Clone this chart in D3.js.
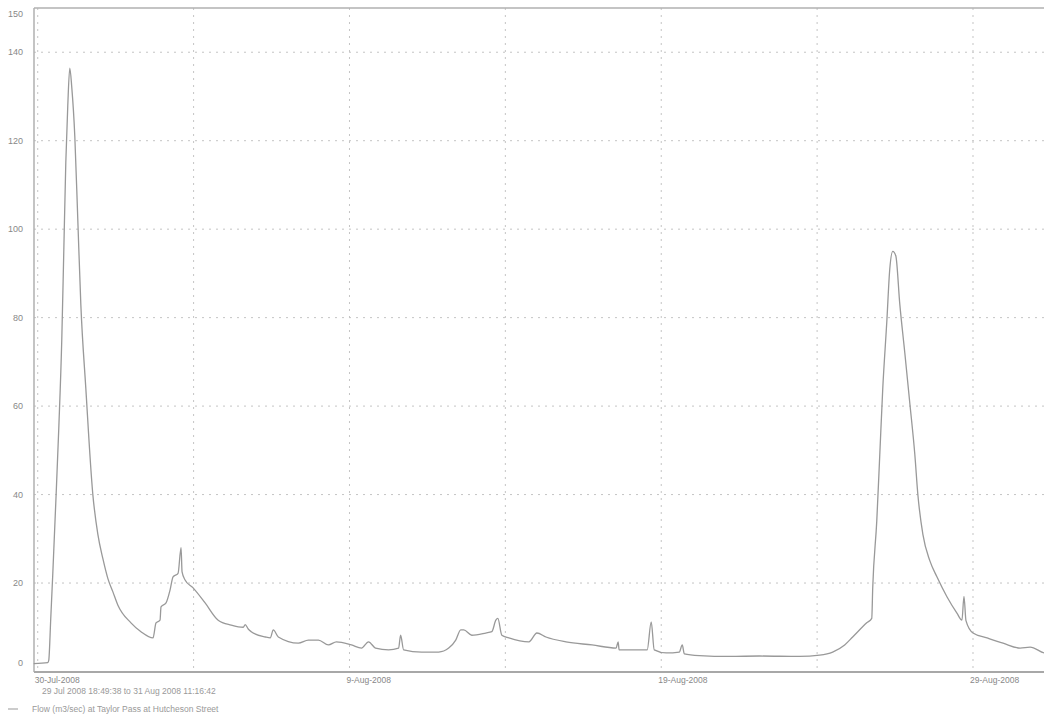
<!DOCTYPE html>
<html>
<head>
<meta charset="utf-8">
<script src="https://cdn.jsdelivr.net/npm/d3@7"></script>
<style>
  body { margin: 0; background: #fff; }
  text { font-family: "Liberation Sans", Arial, sans-serif; }
</style>
</head>
<body>
<div id="chart"></div>
<script>
// data (flow, m3/sec)
var times = [
  "2008-07-29 20:55", "2008-07-30 07:43", "2008-07-30 08:29", "2008-07-30 10:02",
  "2008-07-30 11:35", "2008-07-30 13:53", "2008-07-30 16:13", "2008-07-30 18:31",
  "2008-07-30 20:04", "2008-07-30 21:37", "2008-07-30 23:09", "2008-07-31 00:41",
  "2008-07-31 02:14", "2008-07-31 04:33", "2008-07-31 06:52", "2008-07-31 09:11",
  "2008-07-31 13:02", "2008-07-31 18:26", "2008-07-31 22:18", "2008-08-01 02:10",
  "2008-08-01 06:01", "2008-08-01 09:53", "2008-08-01 13:44", "2008-08-01 23:46",
  "2008-08-02 07:29", "2008-08-02 16:45", "2008-08-02 19:04", "2008-08-02 22:09",
  "2008-08-02 22:55", "2008-08-03 02:47", "2008-08-03 05:52", "2008-08-03 08:11",
  "2008-08-03 12:02", "2008-08-03 14:21", "2008-08-03 15:07", "2008-08-03 17:26",
  "2008-08-03 23:37", "2008-08-04 08:52", "2008-08-04 18:55", "2008-08-05 04:56",
  "2008-08-05 14:12", "2008-08-05 15:44", "2008-08-05 18:04", "2008-08-05 20:22",
  "2008-08-06 07:11", "2008-08-06 11:02", "2008-08-06 13:21", "2008-08-06 17:13",
  "2008-08-07 08:38", "2008-08-07 16:22", "2008-08-08 00:05", "2008-08-08 07:47",
  "2008-08-08 13:58", "2008-08-09 01:32", "2008-08-09 09:16", "2008-08-09 14:40",
  "2008-08-09 20:04", "2008-08-10 06:06", "2008-08-10 13:49", "2008-08-10 15:22",
  "2008-08-10 17:40", "2008-08-11 07:34", "2008-08-11 20:41", "2008-08-12 04:24",
  "2008-08-12 09:48", "2008-08-12 13:40", "2008-08-12 15:58", "2008-08-12 22:09",
  "2008-08-13 08:57", "2008-08-13 13:35", "2008-08-13 16:40", "2008-08-13 18:13",
  "2008-08-13 21:18", "2008-08-14 02:42", "2008-08-14 18:08", "2008-08-15 00:18",
  "2008-08-15 07:15", "2008-08-15 22:41", "2008-08-16 18:45", "2008-08-17 13:16",
  "2008-08-17 14:49", "2008-08-17 15:35", "2008-08-17 23:18", "2008-08-18 13:11",
  "2008-08-18 16:17", "2008-08-18 18:36", "2008-08-19 03:52", "2008-08-19 13:53",
  "2008-08-19 16:12", "2008-08-19 17:45", "2008-08-20 05:19", "2008-08-21 04:28",
  "2008-08-22 03:37", "2008-08-23 10:29", "2008-08-24 01:56", "2008-08-24 11:58",
  "2008-08-24 21:13", "2008-08-25 03:23", "2008-08-25 14:12", "2008-08-25 18:03",
  "2008-08-25 18:49", "2008-08-25 21:55", "2008-08-26 00:14", "2008-08-26 02:32",
  "2008-08-26 05:38", "2008-08-26 07:56", "2008-08-26 10:16", "2008-08-26 12:34",
  "2008-08-26 15:40", "2008-08-26 19:31", "2008-08-26 23:23", "2008-08-27 03:14",
  "2008-08-27 05:33", "2008-08-27 09:25", "2008-08-27 14:49", "2008-08-27 20:13",
  "2008-08-28 03:56", "2008-08-28 11:38", "2008-08-28 15:30", "2008-08-28 17:03",
  "2008-08-28 18:35", "2008-08-29 00:00", "2008-08-29 10:48", "2008-08-29 23:09",
  "2008-08-30 12:16", "2008-08-30 19:59", "2008-08-31 06:47", "2008-08-31 11:16"
];
var flow = [
  1.8, 2.0, 2.5, 12,
  22, 38, 55, 75,
  95, 115, 128, 136.4,
  132, 121, 102, 83,
  64, 40, 31, 25.5,
  21, 18, 15, 11,
  9, 7.6, 11, 11.6,
  14.6, 15.5, 18.4, 21.4,
  22.2, 28, 22.5, 20.7,
  18.9, 15.5, 11.6, 10.5,
  10, 10.6, 9.6, 9,
  7.8, 7.6, 9.4, 7.8,
  6.4, 7.1, 7.1, 6,
  6.7, 6, 5.3, 6.7,
  5.3, 4.9, 5.3, 8.2,
  4.9, 4.4, 4.4, 5.3,
  7.1, 9.4, 9.4, 8.2,
  8.7, 9, 11.6, 12,
  8.2, 7.6, 6.7, 8.7,
  7.8, 6.7, 6, 5.3,
  6.7, 4.9, 4.9, 4.9,
  11.2, 4.9, 4.2, 4.4,
  6, 4, 3.6, 3.4,
  3.5, 3.4, 3.7, 4.4,
  6, 7.8, 11, 12,
  19, 34, 49, 64,
  79, 91, 95, 94,
  83, 72, 60.6, 49,
  40, 31, 25, 21.4,
  16.9, 13.2, 11.6, 17,
  11.5, 8.7, 7.6, 6.4,
  5.3, 5.5, 4.2, 4.0
];

var period_start = "2008-07-29 18:49:38";
var period_end = "2008-08-31 11:16:42";
var y_ticks = [0, 20, 40, 60, 80, 100, 120, 140, 150];
var y_grid = [20, 40, 60, 80, 100, 120, 140];
var x_labels = ["2008-07-30", "2008-08-09", "2008-08-19", "2008-08-29"];
var x_minor = ["2008-08-04", "2008-08-14", "2008-08-24"];
var range_text = "29 Jul 2008 18:49:38 to 31 Aug 2008 11:16:42";
var legend_text = "Flow (m3/sec) at Taylor Pass at Hutcheson Street";

var chart_width = 1044;
var chart_height = 719;
var left = 34, top_y = 8, bottom = 672;

var parseMin = d3.timeParse("%Y-%m-%d %H:%M");
var parseSec = d3.timeParse("%Y-%m-%d %H:%M:%S");
var parseDay = d3.timeParse("%Y-%m-%d");
var fmt = d3.timeFormat("%-d-%b-%Y");

var data = times.map(function(t, i){
    return {date: parseMin(t), value: flow[i]};
});

var x = d3.scaleTime()
          .domain([parseSec(period_start), parseSec(period_end)])
          .range([31, 1050]);

var y = d3.scaleLinear()
          .domain([0, 150])
          .range([671.5, top_y]);

var svg = d3.select("#chart")
            .append("svg")
            .attr("width", chart_width)
            .attr("height", chart_height);

// grid
svg.selectAll(".hgrid")
    .data(y_grid)
    .enter()
    .append("line")
    .attr("x1", left)
    .attr("x2", chart_width)
    .attr("y1", function(d){ return y(d); })
    .attr("y2", function(d){ return y(d); })
    .attr("stroke", "#c4c4c4")
    .attr("stroke-dasharray", "2,5");

svg.selectAll(".vgrid")
    .data(x_labels.concat(x_minor))
    .enter()
    .append("line")
    .attr("x1", function(d){ return x(parseDay(d)); })
    .attr("x2", function(d){ return x(parseDay(d)); })
    .attr("y1", top_y)
    .attr("y2", bottom)
    .attr("stroke", "#c4c4c4")
    .attr("stroke-dasharray", "2,5");

// frame
svg.append("line")
    .attr("x1", left).attr("x2", chart_width)
    .attr("y1", top_y).attr("y2", top_y)
    .attr("stroke", "#b0b0b0").attr("stroke-width", 1.5);
svg.append("line")
    .attr("x1", left).attr("x2", left)
    .attr("y1", top_y).attr("y2", bottom)
    .attr("stroke", "#b0b0b0").attr("stroke-width", 1.5);
svg.append("line")
    .attr("x1", left).attr("x2", chart_width)
    .attr("y1", bottom).attr("y2", bottom)
    .attr("stroke", "#a8a8a8").attr("stroke-width", 2);

// y labels
svg.selectAll(".ylab")
    .data(y_ticks)
    .enter()
    .append("text")
    .attr("x", 23)
    .attr("y", function(d){
        if (d == 0) return y(d) - 6;
        if (d == 150) return y(d) + 9;
        return y(d) + 3;
    })
    .attr("text-anchor", "end")
    .attr("font-size", 9)
    .attr("fill", "#888")
    .text(function(d){ return d; });

// x labels
svg.selectAll(".xlab")
    .data(x_labels)
    .enter()
    .append("text")
    .attr("x", function(d){ return x(parseDay(d)) - 3; })
    .attr("y", 683)
    .attr("font-size", 8.5)
    .attr("fill", "#888")
    .text(function(d){ return fmt(parseDay(d)); });

svg.append("text")
    .attr("x", 42).attr("y", 694)
    .attr("font-size", 8.5).attr("fill", "#999")
    .text(range_text);

svg.append("line")
    .attr("x1", 8).attr("x2", 18)
    .attr("y1", 709).attr("y2", 709)
    .attr("stroke", "#aaa").attr("stroke-width", 1.2);
svg.append("text")
    .attr("x", 32).attr("y", 712)
    .attr("font-size", 8.5).attr("fill", "#999")
    .text(legend_text);

// flow line
var line = d3.line()
             .curve(d3.curveMonotoneX)
             .x(function(d){ return x(d.date); })
             .y(function(d){ return y(d.value); });

svg.append("path")
    .datum(data)
    .attr("d", line)
    .attr("fill", "none")
    .attr("stroke", "#999")
    .attr("stroke-width", 1.3);
</script>
</body>
</html>
